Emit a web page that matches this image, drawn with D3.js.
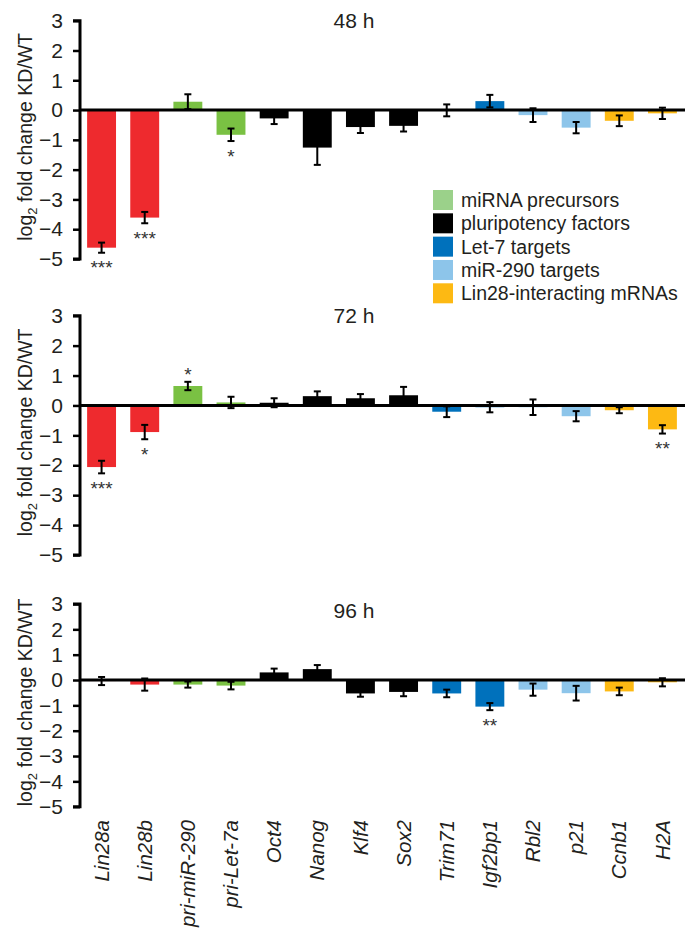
<!DOCTYPE html>
<html>
<head>
<meta charset="utf-8">
<script src="https://cdn.jsdelivr.net/npm/d3@7"></script>
<style>
  html, body { margin: 0; padding: 0; background: #fff; }
  svg { display: block; font-family: "Liberation Sans", Arial, sans-serif; }
</style>
</head>
<body>
<svg id="chart" width="697" height="937"></svg>
<script>
// ---------------- DATA ----------------
const categories = ["Lin28a","Lin28b","pri-miR-290","pri-Let-7a","Oct4","Nanog","Klf4","Sox2","Trim71","Igf2bp1","Rbl2","p21","Ccnb1","H2A"];
const groups = ["lin28","lin28","mirna","mirna","pluri","pluri","pluri","pluri","let7","let7","mir290","mir290","lin28int","lin28int"];

const panelTitles = ["48 h","72 h","96 h"];

const values48 = [-4.62,-3.61,0.28,-0.83,-0.28,-1.26,-0.57,-0.53,-0.01,0.30,-0.17,-0.59,-0.36,-0.11];
const errors48 = [0.17,0.19,0.25,0.21,0.19,0.58,0.20,0.19,0.20,0.21,0.23,0.19,0.18,0.19];
const sig48    = ["***","***","","*","","","","","","","","","",""];

const values72 = [-2.06,-0.89,0.65,0.10,0.09,0.31,0.24,0.34,-0.21,-0.06,-0.06,-0.36,-0.16,-0.80];
const errors72 = [0.21,0.24,0.14,0.19,0.15,0.16,0.14,0.28,0.18,0.17,0.26,0.17,0.10,0.14];
const sig72    = ["***","*","*","","","","","","","","","","","**"];

const values96 = [-0.04,-0.18,-0.18,-0.22,0.30,0.43,-0.53,-0.47,-0.53,-1.05,-0.38,-0.52,-0.45,-0.09];
const errors96 = [0.16,0.24,0.12,0.15,0.15,0.16,0.13,0.17,0.15,0.14,0.24,0.29,0.15,0.16];
const sig96    = ["","","","","","","","","","**","","","",""];

const yTicks = [3,2,1,0,-1,-2,-3,-4,-5];

const legendLabels = ["miRNA precursors","pluripotency factors","Let-7 targets","miR-290 targets","Lin28-interacting mRNAs"];
const legendKeys   = ["mirnaLegend","pluri","let7","mir290","lin28int"];

// ---------------- STYLE ----------------
const colors = {
  lin28: "#ee2a2e",
  mirna: "#7ac143",
  mirnaLegend: "#9bd18a",
  pluri: "#000000",
  let7: "#0071bc",
  mir290: "#8dc5ea",
  lin28int: "#fdb913"
};
const textColor = "#231f20";

// ---------------- LAYOUT ----------------
const svg = d3.select("#chart");
const xLeft = 80, xRight = 684;
const x = d3.scaleBand().domain(categories).range([xLeft, xRight]).paddingInner(0.33).paddingOuter(0.165);

const panels = [
  {values: values48, errors: errors48, sig: sig48, top: 20.7, bottom: 259, titleY: 28},
  {values: values72, errors: errors72, sig: sig72, top: 315.7, bottom: 555, titleY: 322.7},
  {values: values96, errors: errors96, sig: sig96, top: 604, bottom: 806.7, titleY: 618.3}
];

panels.forEach((p, pi) => {
  const y = d3.scaleLinear().domain([-5, 3]).range([p.bottom, p.top]);
  const g = svg.append("g");

  // bars
  g.selectAll("rect.bar").data(categories).join("rect")
    .attr("class","bar")
    .attr("x", d => x(d))
    .attr("width", x.bandwidth())
    .attr("y", (d,i) => y(Math.max(0, p.values[i])))
    .attr("height", (d,i) => Math.abs(y(p.values[i]) - y(0)))
    .attr("fill", (d,i) => colors[groups[i]]);

  // error bars
  const cap = 3.5;
  const eb = g.selectAll("g.err").data(categories).join("g").attr("class","err")
    .attr("stroke", "#000").attr("stroke-width", 2).attr("fill","none");
  eb.append("line")
    .attr("x1", d => x(d) + x.bandwidth()/2).attr("x2", d => x(d) + x.bandwidth()/2)
    .attr("y1", (d,i) => y(p.values[i] + p.errors[i]))
    .attr("y2", (d,i) => y(p.values[i] - p.errors[i]));
  eb.append("line")
    .attr("x1", d => x(d) + x.bandwidth()/2 - cap).attr("x2", d => x(d) + x.bandwidth()/2 + cap)
    .attr("y1", (d,i) => y(p.values[i] + p.errors[i]))
    .attr("y2", (d,i) => y(p.values[i] + p.errors[i]));
  eb.append("line")
    .attr("x1", d => x(d) + x.bandwidth()/2 - cap).attr("x2", d => x(d) + x.bandwidth()/2 + cap)
    .attr("y1", (d,i) => y(p.values[i] - p.errors[i]))
    .attr("y2", (d,i) => y(p.values[i] - p.errors[i]));

  // significance stars
  g.selectAll("text.sig").data(categories).join("text")
    .attr("class","sig")
    .attr("x", d => x(d) + x.bandwidth()/2)
    .attr("y", (d,i) => {
      const v = p.values[i], e = p.errors[i];
      const c = v >= 0 ? y(v + e) - 11 : y(v - e) + 11;
      return c + 10.5;
    })
    .attr("text-anchor","middle")
    .attr("font-size", 19)
    .attr("fill", "#333")
    .text((d,i) => p.sig[i]);

  // y axis
  const yAxis = d3.axisLeft(y).tickValues(yTicks).tickSize(7).tickPadding(10).tickFormat(d3.format("d"));
  const ax = g.append("g").attr("transform", `translate(${xLeft},0)`).call(yAxis);
  ax.select(".domain").attr("stroke","#000").attr("stroke-width",3)
    .attr("d", `M-7,${p.top}H0V${p.bottom}H-7`);
  ax.selectAll(".tick line").attr("stroke","#000").attr("stroke-width",2.5);
  ax.selectAll(".tick text").attr("font-size", 21).attr("fill", textColor)
    .attr("font-family", '"Liberation Sans", Arial, sans-serif');

  // zero line
  g.append("line").attr("x1", xLeft).attr("x2", 685).attr("y1", y(0)).attr("y2", y(0))
    .attr("stroke","#000").attr("stroke-width",3);

  // y label
  const cy = (p.top + p.bottom)/2 - 3;
  const yl = g.append("text")
    .attr("transform", `translate(32,${cy}) rotate(-90)`)
    .attr("text-anchor","middle")
    .attr("font-size", 19.5)
    .attr("fill", textColor);
  yl.append("tspan").text("log");
  yl.append("tspan").attr("font-size", 13).attr("dy", 5).text("2");
  yl.append("tspan").attr("dy", -5).text(" fold change KD/WT");

  // title
  g.append("text").attr("x", 354).attr("y", p.titleY).attr("text-anchor","middle")
    .attr("font-size", 21).attr("fill", textColor).text(panelTitles[pi]);
});

// x labels
svg.append("g").selectAll("text").data(categories).join("text")
  .attr("transform", d => `translate(${x(d) + x.bandwidth()/2},820) rotate(-90)`)
  .attr("dy", "0.35em")
  .attr("text-anchor", "end")
  .attr("font-size", 20.5)
  .attr("font-style", "italic")
  .attr("fill", textColor)
  .text(d => d);

// legend
const leg = svg.append("g");
const legY = d3.scalePoint().domain(legendLabels).range([190, 283.3]);
leg.selectAll("rect").data(legendLabels).join("rect")
  .attr("x", 433).attr("y", d => legY(d)).attr("width", 20).attr("height", 20)
  .attr("fill", (d,i) => colors[legendKeys[i]]);
leg.selectAll("text").data(legendLabels).join("text")
  .attr("x", 461).attr("y", d => legY(d) + 17)
  .attr("font-size", 19.5).attr("fill", textColor)
  .text(d => d);
</script>
</body>
</html>
